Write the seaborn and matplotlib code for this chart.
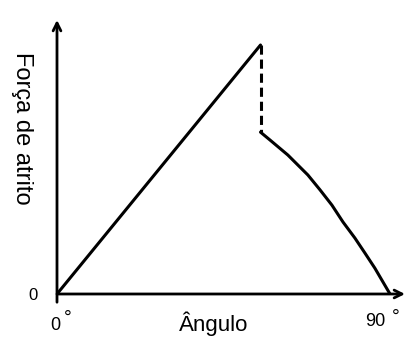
import matplotlib
matplotlib.use("Agg")
import matplotlib.pyplot as plt
import seaborn as sns
import pandas as pd

# values (angle in degrees, force in arbitrary units)
angle_rise = [0, 55]
force_rise = [0, 1.0]
angle_jump = [55, 55]
force_jump = [1.0, 0.65]
angle_slide = [55, 57.6, 62.4, 65.1, 67.8, 71.1, 74.3, 77.3, 80.5, 83.2, 85.9, 90]
force_slide = [0.65, 0.618, 0.558, 0.518, 0.478, 0.418, 0.357, 0.289, 0.225, 0.165, 0.104, 0]

x_label = "Ângulo"
y_label = "Força de atrito"

sns.set_style("white")
plt.rcParams["font.family"] = ["Liberation Sans", "DejaVu Sans"]

W, H = 407, 339
fig = plt.figure(figsize=(W / 100, H / 100), dpi=100)
ax = fig.add_axes([57 / W, (H - 294) / H, (405 - 57) / W, (294 - 20) / H])

rise = pd.DataFrame({"angle": angle_rise, "force": force_rise})
jump = pd.DataFrame({"angle": angle_jump, "force": force_jump})
slide = pd.DataFrame({"angle": angle_slide, "force": force_slide})

line_kw = dict(x="angle", y="force", color="black", lw=2.2, estimator=None,
               sort=False, ax=ax)
sns.lineplot(data=rise, **line_kw)
sns.lineplot(data=jump, linestyle=(0, (3, 1.6)), **line_kw)
sns.lineplot(data=slide, solid_joinstyle="round", **line_kw)

ax.set_xlim(0, (405 - 57) / 3.7)
ax.set_ylim(0, (294 - 20) / 249)
ax.set_xlabel("")
ax.set_ylabel("")
ax.set_xticks([])
ax.set_yticks([])
for s in ax.spines.values():
    s.set_visible(False)

arrow = dict(arrowstyle="->", lw=2, color="black", shrinkA=0, shrinkB=0,
             mutation_scale=14)
ax.annotate("", xy=(1, 0), xytext=(0, 0), xycoords="axes fraction",
            arrowprops=arrow, annotation_clip=False)
ax.annotate("", xy=(0, 1), xytext=(0, -0.03), xycoords="axes fraction",
            arrowprops=arrow, annotation_clip=False)


def px(x, y):
    return x / W, 1 - y / H


txt = dict(color="black", ha="center", va="center")
fig.text(*px(33, 296), "0", fontsize=12, **txt)
fig.text(*px(55, 326), "0", fontsize=13, **txt)
fig.text(*px(68, 318), "°", fontsize=14, **txt)
fig.text(*px(375, 322), "90", fontsize=13, **txt)
fig.text(*px(396, 317), "°", fontsize=14, **txt)
fig.text(*px(214, 324), x_label, fontsize=16, **txt)
fig.text(*px(22, 128), y_label, fontsize=17, rotation=270, **txt)

fig.savefig("out.png", dpi=100, facecolor="white")
